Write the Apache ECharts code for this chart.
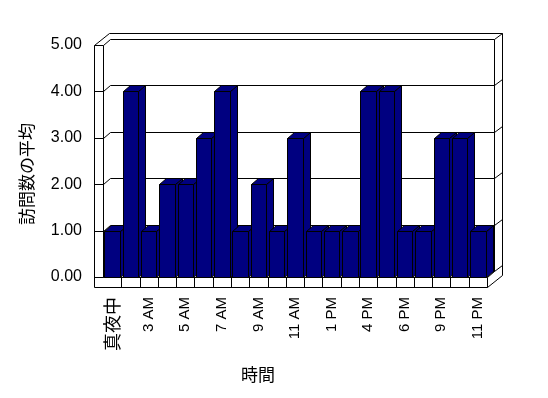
<!DOCTYPE html>
<html>
<head>
<meta charset="utf-8">
<script src="https://cdn.jsdelivr.net/npm/echarts@6/dist/echarts.min.js"></script>
<style>
  html, body { margin: 0; padding: 0; background: #fff; }
  #main { width: 548px; height: 398px; }
</style>
</head>
<body>
<div id="main"></div>
<script>
// 時間帯ごとの訪問数の平均
var categories = ['真夜中', '1 AM', '3 AM', '4 AM', '5 AM', '6 AM', '7 AM', '8 AM', '9 AM', '10 AM', '11 AM',
    '正午', '1 PM', '2 PM', '4 PM', '5 PM', '6 PM', '7 PM', '9 PM', '10 PM', '11 PM'];
var visits = [1, 4, 1, 2, 2, 3, 4, 1, 2, 1, 3, 1, 1, 1, 4, 4, 1, 1, 3, 3, 1];
var yTicks = [0, 1, 2, 3, 4, 5];

// 奥行き (3D風)
var D1 = [7, -6];     // 棒・奥の壁の内側
var D2 = [15, -12];   // 奥の壁の外側
var WALL = 9;         // 左の壁の厚さ
var FLOOR = 10;       // 床の厚さ

function px(v) { return Math.round(v) + 0.5; }

function renderBar(params, api) {
    var top = api.coord([api.value(0), api.value(1)]);
    var base = api.coord([api.value(0), 0]);
    var w = api.size([1, 0])[0] * 0.85;
    var x0 = px(top[0] - w / 2), x1 = px(top[0] + w / 2);
    var yt = px(top[1]), yb = px(base[1]);
    var st = { fill: '#000080', stroke: '#000', lineWidth: 1 };
    return {
        type: 'group',
        children: [
            { type: 'polygon', shape: { points: [[x1, yb], [x1 + D1[0], yb + D1[1]], [x1 + D1[0], yt + D1[1]], [x1, yt]] }, style: st },
            { type: 'polygon', shape: { points: [[x0, yt], [x0 + D1[0], yt + D1[1]], [x1 + D1[0], yt + D1[1]], [x1, yt]] }, style: st },
            { type: 'rect', shape: { x: x0, y: yt, width: x1 - x0, height: yb - yt }, style: st }
        ]
    };
}

function renderFrame(params, api) {
    var cw = api.size([1, 0])[0];
    var xL = api.coord([0, 0])[0] - cw / 2;
    var xR = xL + cw * categories.length;
    function Y(v) { return api.coord([0, v])[1]; }
    var y0 = Y(0), yT = Y(yTicks[yTicks.length - 1]);
    var lines = [];
    function L(pts) {
        lines.push({
            type: 'polyline',
            shape: { points: pts.map(function (p) { return [px(p[0]), px(p[1])]; }) },
            style: { stroke: '#000', lineWidth: 1, fill: null }
        });
    }
    // 左の壁と床の前面
    L([[xL - WALL, yT], [xL - WALL, y0 + FLOOR], [xR, y0 + FLOOR], [xR, y0], [xL, y0], [xL, yT], [xL - WALL, yT]]);
    // 床の右端
    L([[xR, y0 + FLOOR], [xR + D2[0], y0 + FLOOR + D2[1]]]);
    L([[xR, y0], [xR + D1[0], y0 + D1[1]]]);
    // 壁の上端
    L([[xL - WALL, yT], [xL - WALL + D2[0], yT + D2[1]], [xR + D2[0], yT + D2[1]], [xR + D2[0], y0 + FLOOR + D2[1]]]);
    L([[xL, yT], [xL + D1[0], yT + D1[1]], [xR + D1[0], yT + D1[1]], [xR + D1[0], y0 + D1[1]]]);
    L([[xR + D1[0], yT + D1[1]], [xR + D2[0], yT + D2[1]]]);
    // 目盛線
    yTicks.slice(0, -1).forEach(function (v) {
        var y = Y(v);
        L([[xL - WALL, y], [xL, y], [xL + D1[0], y + D1[1]], [xR + D1[0], y + D1[1]], [xR + D2[0], y + D2[1]]]);
    });
    // 床の区切り
    for (var i = 1; i < categories.length; i++) {
        L([[xL + i * cw, y0], [xL + i * cw, y0 + FLOOR]]);
    }
    return { type: 'group', children: lines };
}

var myChart = echarts.init(document.getElementById('main'));

var labelFont = "'Liberation Sans', 'Noto Sans CJK JP', sans-serif";

var option = {
    backgroundColor: '#fff',
    animation: false,
    grid: { left: 103, right: 61, top: 45, bottom: 121 },
    xAxis: {
        type: 'category',
        data: categories,
        axisLine: { show: false },
        axisTick: { show: false },
        axisLabel: {
            interval: 1,
            rotate: 90,
            margin: 20,
            color: '#000',
            fontSize: 15,
            fontFamily: labelFont,
            formatter: function (v) {
                return /[^\x00-\x7f]/.test(v) ? '{j|' + v + '}' : v;
            },
            rich: {
                j: { fontSize: 18, fontFamily: "'Noto Sans CJK JP'", color: '#000' }
            }
        }
    },
    yAxis: {
        type: 'value',
        min: 0,
        max: 5,
        interval: 1,
        axisLine: { show: false },
        axisTick: { show: false },
        splitLine: { show: false },
        axisLabel: {
            margin: 21,
            color: '#000',
            fontSize: 16,
            fontFamily: labelFont,
            formatter: function (v) { return v.toFixed(2); }
        }
    },
    graphic: [
        {
            type: 'text', x: 27, y: 174, rotation: Math.PI / 2,
            style: { text: '訪問数の平均', font: "17px 'Noto Sans CJK JP'", fill: '#000', align: 'center', verticalAlign: 'middle' }
        },
        {
            type: 'text', x: 258, y: 375,
            style: { text: '時間', font: "17px 'Noto Sans CJK JP'", fill: '#000', align: 'center', verticalAlign: 'middle' }
        }
    ],
    series: [
        {
            name: 'frame',
            type: 'custom',
            renderItem: renderFrame,
            clip: false,
            silent: true,
            z: 1,
            data: [[0, 0]]
        },
        {
            name: '訪問数の平均',
            type: 'custom',
            renderItem: renderBar,
            clip: false,
            z: 2,
            encode: { x: 0, y: 1 },
            data: visits.map(function (v, i) { return [i, v]; })
        }
    ]
};

myChart.setOption(option);
</script>
</body>
</html>
